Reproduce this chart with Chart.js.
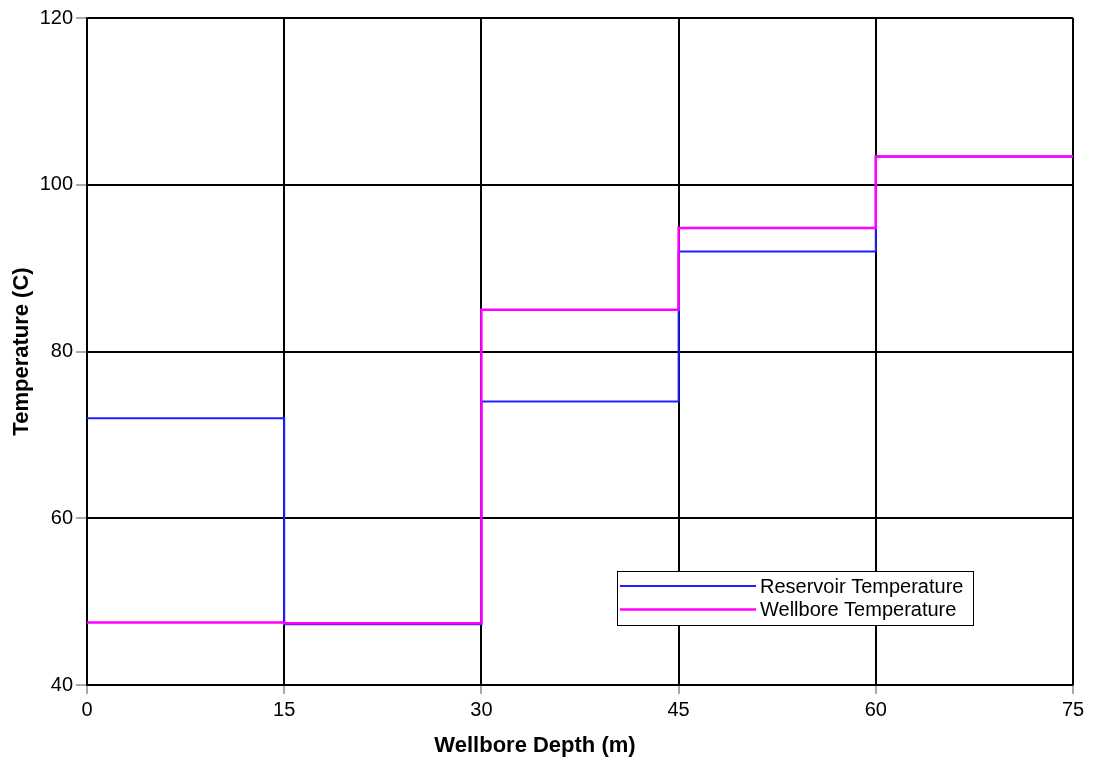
<!DOCTYPE html>
<html>
<head>
<meta charset="utf-8">
<script src="https://cdn.jsdelivr.net/npm/chart.js@4.4.0/dist/chart.umd.min.js"></script>
<style>
  html, body { margin: 0; padding: 0; background: #fff; }
  #wrap { width: 1096px; height: 758px; }
</style>
</head>
<body>
<div id="wrap"><canvas id="tempChart" width="1096" height="758"></canvas></div>
<script>
// zone boundaries along the wellbore (m) and temperature per zone (C)
const depthEdges = [0, 15, 30, 45, 60, 75];
const reservoirTemp = [72, 47.3, 74, 92, 103.4];
const wellboreTemp = [47.5, 47.4, 85, 94.8, 103.4];
const depthTicks = [0, 15, 30, 45, 60, 75];
const tempTicks = [40, 60, 80, 100, 120];

// step points: each zone value holds from its top edge, last value repeated at the end
function stepPoints(values) {
  return depthEdges.map((x, i) => ({ x: x, y: values[Math.min(i, values.length - 1)] }));
}

const FONT = 'Liberation Sans, Arial, sans-serif';

// legend box inside the plot plus the depth axis title, drawn by hand
const extras = {
  id: 'extras',
  afterDatasetsDraw(chart) {
    const ctx = chart.ctx;
    const x0 = 617, y0 = 571, w = 356, h = 54;
    ctx.save();
    ctx.fillStyle = '#fff';
    ctx.fillRect(x0, y0, w, h);
    ctx.strokeStyle = '#000';
    ctx.lineWidth = 1;
    ctx.strokeRect(x0 + 0.5, y0 + 0.5, w, h);
    ctx.font = '20px ' + FONT;
    ctx.textBaseline = 'middle';
    ctx.fillStyle = '#000';
    const items = [chart.data.datasets[1], chart.data.datasets[0]];
    items.forEach((ds, i) => {
      const y = y0 + 15 + i * 23.5;
      ctx.strokeStyle = ds.borderColor;
      ctx.lineWidth = ds.borderWidth;
      ctx.beginPath();
      ctx.moveTo(x0 + 3, y);
      ctx.lineTo(x0 + 139, y);
      ctx.stroke();
      ctx.fillText(ds.label, x0 + 143, y + 1);
    });

    ctx.font = 'bold 22px ' + FONT;
    ctx.textAlign = 'center';
    ctx.textBaseline = 'alphabetic';
    ctx.fillText('Wellbore Depth (m)', 535, 752);
    ctx.restore();
  }
};

new Chart(document.getElementById('tempChart'), {
  type: 'line',
  data: {
    datasets: [
      {
        label: 'Wellbore Temperature',
        data: stepPoints(wellboreTemp),
        borderColor: '#ff00ff',
        borderWidth: 2.5,
        stepped: 'before',
        pointRadius: 0,
        fill: false
      },
      {
        label: 'Reservoir Temperature',
        data: stepPoints(reservoirTemp),
        borderColor: '#2020ff',
        borderWidth: 2,
        stepped: 'before',
        pointRadius: 0,
        fill: false
      }
    ]
  },
  options: {
    responsive: false,
    animation: false,
    events: [],
    layout: { padding: { top: 18, right: 23, left: 0, bottom: 0 } },
    plugins: {
      legend: { display: false },
      tooltip: { enabled: false }
    },
    scales: {
      x: {
        type: 'linear',
        min: 0,
        max: 75,
        afterFit(scale) { scale.height = 73; },
        afterBuildTicks(scale) { scale.ticks = depthTicks.map(v => ({ value: v })); },
        grid: { color: '#000', lineWidth: 2, tickLength: 9, tickColor: '#555', tickWidth: 1 },
        border: { color: '#000', width: 1.5 },
        ticks: { color: '#000', font: { family: FONT, size: 20 }, padding: 4, maxRotation: 0 }
      },
      y: {
        type: 'linear',
        min: 40,
        max: 120,
        afterFit(scale) { scale.width = 87; },
        afterBuildTicks(scale) { scale.ticks = tempTicks.map(v => ({ value: v })); },
        grid: { color: '#000', lineWidth: 2, tickLength: 11, tickColor: '#555', tickWidth: 1 },
        border: { color: '#000', width: 1.5 },
        ticks: { color: '#000', font: { family: FONT, size: 20 }, padding: 3 },
        title: {
          display: true,
          text: 'Temperature (C)',
          color: '#000',
          font: { family: FONT, size: 22, weight: 'bold' },
          padding: { top: 9, bottom: 0 }
        }
      }
    }
  },
  plugins: [extras]
});
</script>
</body>
</html>
